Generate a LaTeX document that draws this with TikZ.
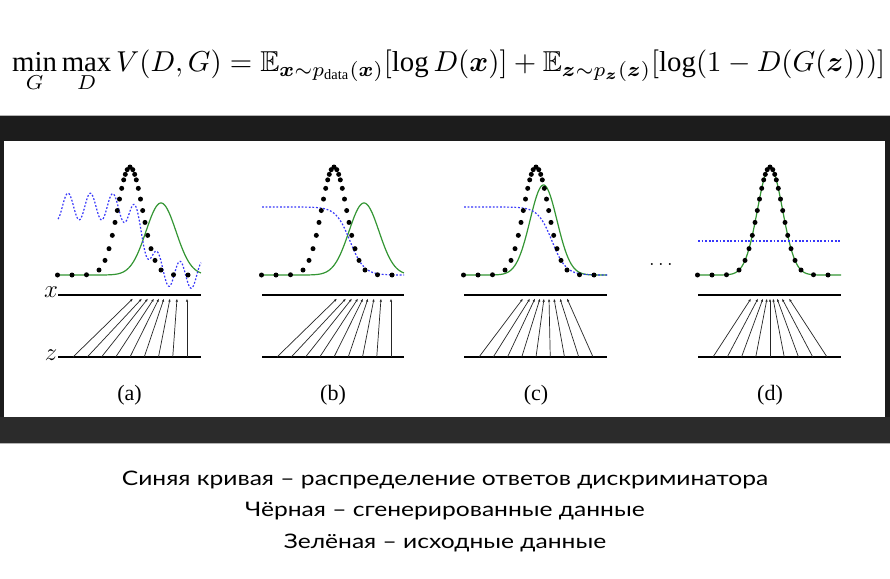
\documentclass[tikz,border=0pt]{standalone}
\usepackage{amsmath,amssymb}
\usepackage{graphicx}
\usepackage{fontspec}
\setmainfont{Liberation Serif}
\newfontfamily\capfont[FakeStretch=1.23]{Lato}
\usetikzlibrary{arrows.meta}
\definecolor{gcol}{RGB}{52,150,52}
\definecolor{bcol}{RGB}{55,55,250}
\definecolor{bandtop}{HTML}{1C1C1C}
\definecolor{bandbot}{HTML}{2B2B2B}
\definecolor{bandedge}{HTML}{B4B4B4}
\tikzset{
  gcurve/.style={gcol, line width=1.2pt},
  bcurve/.style={bcol, line width=1.2pt, dash pattern=on 1.8pt off 1.8pt},
  axisline/.style={black, line width=1.3pt},
  mapline/.style={black!85, line width=0.7pt, -{Latex[length=3.2pt,width=2.4pt]}},
  lbl/.style={inner sep=0pt, font=\fontsize{22}{24}\selectfont},
  axlbl/.style={inner sep=0pt, font=\fontsize{23}{23}\selectfont},
  captxt/.style={inner sep=0pt, font=\capfont\fontsize{20}{20}\selectfont},
}
% dots of the black curve, centred at panel left + 72
\newcommand\blackdots[1]{%
  \foreach \d in {-72.5,-58,-43.5,-31,-25,-21,-17.7,-15,-12.7,-10.5,-8.3,-6.3,-4.7,-2.8,0,2.8,4.7,6.3,8.3,10.5,12.7,15,17.7,21,25,31,43.5,58}{%
    \fill[black] ({#1+72+\d},{275-108*exp(-(\d*\d)/312.5)}) circle (2.5);
  }%
}
% mapping arrows z -> x
\newcommand\maparrows[3]{% #1 panel name, #2 left, #3 list of end offsets
  \foreach \e [count=\i] in {#3}{%
    \coordinate (#1-s\i) at ({#2+15+14.25*(\i-1)},357);
    \coordinate (#1-e\i) at ({#2+\e},298.5);
    \draw[mapline] (#1-s\i) -- (#1-e\i);
  }%
}
\begin{document}
\begin{tikzpicture}[x=1pt,y=-1pt]
\useasboundingbox (0,0) rectangle (890,578);
\fill[white] (0,0) rectangle (890,578);
% formula
\node[anchor=base west, inner sep=0pt] (formula) at (12,71)
  {\resizebox{873pt}{!}{$\displaystyle \min_{G}\max_{D} V(D,G) = \mathbb{E}_{\boldsymbol{x}\sim p_{\text{data}}(\boldsymbol{x})}[\log D(\boldsymbol{x})] + \mathbb{E}_{\boldsymbol{z}\sim p_{\boldsymbol{z}}(\boldsymbol{z})}[\log(1-D(G(\boldsymbol{z})))]$}};
% dark band
\fill[bandtop] (0,115.5) rectangle (890,443);
\fill[bandbot] (0,417) rectangle (890,443);
\fill[white] (4,141) rectangle (885,417);
\draw[bandedge, line width=0.8pt] (0,115.5) -- (890,115.5);
\draw[bandedge, line width=0.8pt] (0,443) -- (890,443);

% ---------- panel (a) ----------
\draw[gcurve] plot[domain=58:201, samples=160] (\x,{275-72*exp(-((\x-161)*(\x-161))/450)});
\draw[bcurve] plot[domain=58:201, samples=260, smooth] (\x,{206.5+68.5/(1+exp(-max(-9,min(9,(\x-145.5)/6.7))))-13.3*cos(360*((\x-68)/22.4))});
\blackdots{58}
\draw[axisline] (58,295) -- (201,295);
\draw[axisline] (58,357) -- (201,357);
\maparrows{a}{58}{75,84,90,96,101,106,112,119,129}
\node[axlbl] (xlab) at (51,292) {$x$};
\node[axlbl] (zlab) at (51,355) {$z$};
\node[lbl] (la) at (129.5,395) {(a)};

% ---------- panel (b) ----------
\draw[gcurve] plot[domain=262:404, samples=160] (\x,{275-72*exp(-((\x-364)*(\x-364))/450)});
\draw[bcurve] plot[domain=262:404, samples=160] (\x,{207+68/(1+exp(-max(-9,min(9,(\x-350)/7))))});
\blackdots{262}
\draw[axisline] (262,295) -- (404,295);
\draw[axisline] (262,357) -- (404,357);
\maparrows{b}{262}{75,84,90,96,101,106,112,119,129}
\node[lbl] (lb) at (333,395) {(b)};

% ---------- panel (c) ----------
\draw[gcurve] plot[domain=464:607, samples=160] (\x,{275-90*exp(-((\x-543.5)*(\x-543.5))/364.5)});
\draw[bcurve] plot[domain=464:607, samples=160] (\x,{207+68/(1+exp(-max(-9,min(9,(\x-552)/7))))});
\blackdots{464}
\draw[axisline] (464,295) -- (607,295);
\draw[axisline] (464,357) -- (607,357);
\maparrows{c}{464}{59,66,71,76,80,85,90,96,103}
\node[lbl] (lc) at (536,395) {(c)};

% ellipsis
\node[lbl] (ell) at (661,264) {$\ldots$};

% ---------- panel (d) ----------
\draw[gcurve] plot[domain=698:841, samples=160] (\x,{275-108*exp(-((\x-770)*(\x-770))/312.5)});
\draw[bcurve] (698,241) -- (841,241);
\blackdots{698}
\draw[axisline] (698,295) -- (841,295);
\draw[axisline] (698,357) -- (841,357);
\maparrows{d}{698}{53,60,65,69,72,75,79,84,91}
\node[lbl] (ld) at (770,395) {(d)};

% caption
\node[captxt] (cap1) at (445,480) {Синяя кривая – распределение ответов дискриминатора};
\node[captxt] (cap2) at (445,511) {Чёрная – сгенерированные данные};
\node[captxt] (cap3) at (445,543) {Зелёная – исходные данные};
\end{tikzpicture}
\end{document}
